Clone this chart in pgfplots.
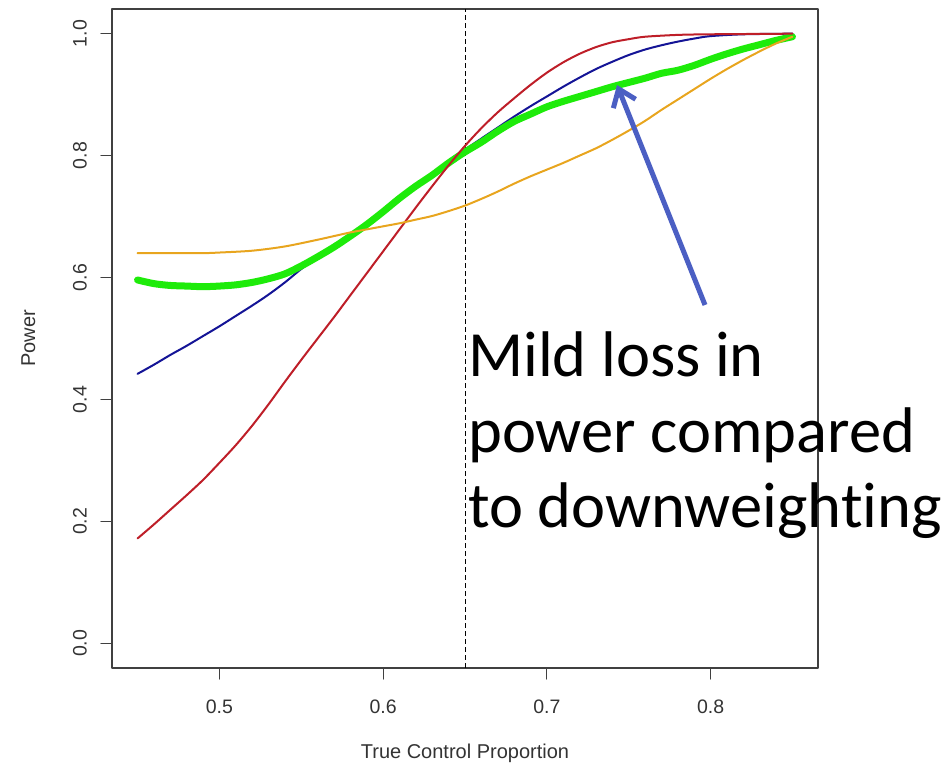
\documentclass[border=0pt]{standalone}
\usepackage{pgfplots}
\pgfplotsset{compat=1.18}
\usepackage{fontspec}
\setmainfont{Liberation Sans}
\newfontfamily\calibri[Ligatures={NoCommon}]{Carlito}
\usetikzlibrary{arrows.meta}
\definecolor{rred}{RGB}{190,30,40}
\definecolor{rblue}{RGB}{20,20,150}
\definecolor{rorange}{RGB}{232,165,30}
\definecolor{rgreen}{RGB}{30,235,10}
\definecolor{arrowblue}{RGB}{75,95,195}

\pgfplotstableread{
x y
0.45 0.172
0.46 0.195
0.47 0.219
0.48 0.243
0.49 0.268
0.50 0.296
0.51 0.325
0.52 0.357
0.53 0.392
0.54 0.429
0.55 0.465
0.56 0.500
0.57 0.535
0.58 0.571
0.59 0.607
0.60 0.643
0.61 0.679
0.62 0.715
0.63 0.750
0.64 0.784
0.65 0.816
0.66 0.845
0.67 0.871
0.68 0.894
0.69 0.916
0.70 0.936
0.71 0.953
0.72 0.967
0.73 0.978
0.74 0.986
0.75 0.991
0.76 0.995
0.78 0.998
0.80 0.999
0.85 1.000
}\redtab

\pgfplotstableread{
x y
0.45 0.442
0.46 0.457
0.47 0.473
0.48 0.488
0.49 0.504
0.50 0.520
0.51 0.537
0.52 0.554
0.53 0.572
0.54 0.592
0.55 0.614
0.56 0.633
0.57 0.650
0.58 0.668
0.59 0.688
0.60 0.709
0.61 0.731
0.62 0.752
0.63 0.772
0.64 0.791
0.65 0.810
0.66 0.828
0.67 0.846
0.68 0.864
0.69 0.881
0.70 0.897
0.71 0.913
0.72 0.928
0.73 0.942
0.74 0.954
0.75 0.965
0.76 0.974
0.77 0.981
0.78 0.987
0.79 0.992
0.80 0.996
0.82 0.999
0.85 1.000
}\bluetab

\pgfplotstableread{
x y
0.45 0.596
0.46 0.590
0.47 0.587
0.48 0.586
0.49 0.585
0.50 0.586
0.51 0.588
0.52 0.592
0.53 0.598
0.54 0.606
0.55 0.619
0.56 0.634
0.57 0.650
0.58 0.668
0.59 0.687
0.60 0.708
0.61 0.730
0.62 0.750
0.63 0.768
0.64 0.788
0.65 0.806
0.66 0.822
0.67 0.840
0.68 0.856
0.69 0.868
0.70 0.880
0.71 0.889
0.72 0.897
0.73 0.905
0.74 0.913
0.75 0.920
0.76 0.927
0.77 0.935
0.78 0.940
0.79 0.948
0.80 0.958
0.81 0.967
0.82 0.975
0.83 0.982
0.84 0.989
0.85 0.995
}\greentab

\pgfplotstableread{
x y
0.45 0.640
0.47 0.640
0.49 0.640
0.50 0.641
0.52 0.644
0.54 0.651
0.56 0.662
0.57 0.668
0.58 0.674
0.59 0.679
0.60 0.684
0.61 0.689
0.62 0.695
0.63 0.701
0.64 0.709
0.65 0.718
0.66 0.729
0.67 0.741
0.68 0.754
0.69 0.766
0.70 0.777
0.71 0.788
0.72 0.800
0.73 0.812
0.74 0.826
0.75 0.841
0.76 0.857
0.77 0.875
0.78 0.892
0.79 0.909
0.80 0.926
0.81 0.942
0.82 0.957
0.83 0.971
0.84 0.984
0.85 0.995
}\orangetab

\begin{document}
\begin{tikzpicture}
\useasboundingbox (0pt,0pt) rectangle (947pt,765pt);
\begin{axis}[
  at={(112pt,97pt)}, anchor=south west,
  scale only axis, width=706pt, height=659pt,
  xmin=0.4344, xmax=0.8656, ymin=-0.0405, ymax=1.0405,
  axis line style={black!75, line width=1.2pt},
  xtick={0.5,0.6,0.7,0.8},
  ytick={0,0.2,0.4,0.6,0.8,1.0},
  xticklabels={0.5,0.6,0.7,0.8},
  yticklabels={0.0,0.2,0.4,0.6,0.8,1.0},
  xtick pos=left, ytick pos=left,
  tick align=outside, major tick length=11pt,
  tick style={black!75, line width=1.1pt},
  ticklabel style={font=\fontsize{19.5}{22}\selectfont, text=black!80},
  xticklabel style={anchor=north, inner sep=0pt, yshift=-21pt},
  yticklabel style={xshift=-14pt, rotate=90, anchor=south, inner sep=0pt},
  xlabel={True Control Proportion},
  ylabel={Power},
  xlabel style={at={(axis description cs:0.5,-0.138)}, anchor=base,
    font=\fontsize{20}{24}\selectfont, text=black!80},
  ylabel style={at={(axis description cs:-0.109,0.5)}, anchor=base,
    font=\fontsize{20}{24}\selectfont, text=black!80},
  line join=round, line cap=round,
]
\addplot [black, line width=0.9pt, dash pattern=on 5pt off 3pt, line cap=butt] coordinates {(0.65,-0.0405) (0.65,1.0405)};
\addplot [rblue, line width=2pt, no marks, smooth, tension=0.5] table {\bluetab};
\addplot [rgreen, line width=7pt, no marks, smooth, tension=0.5] table {\greentab};
\addplot [rred, line width=2pt, no marks, smooth, tension=0.5] table {\redtab};
\addplot [rorange, line width=2pt, no marks, smooth, tension=0.5] table {\orangetab};
\end{axis}
\draw[arrowblue, line width=5pt, -{Straight Barb[length=16pt,width=24pt]}] (705pt,460pt) -- (617pt,680pt);
\begin{scope}[every node/.style={anchor=base west, inner sep=0pt, font=\calibri\fontsize{64.5}{78}\selectfont}]
\node at (468pt,388pt) {Mild loss in};
\node at (468pt,312pt) {power compared};
\node at (468pt,237pt) {to downweighting};
\end{scope}
\end{tikzpicture}
\end{document}
